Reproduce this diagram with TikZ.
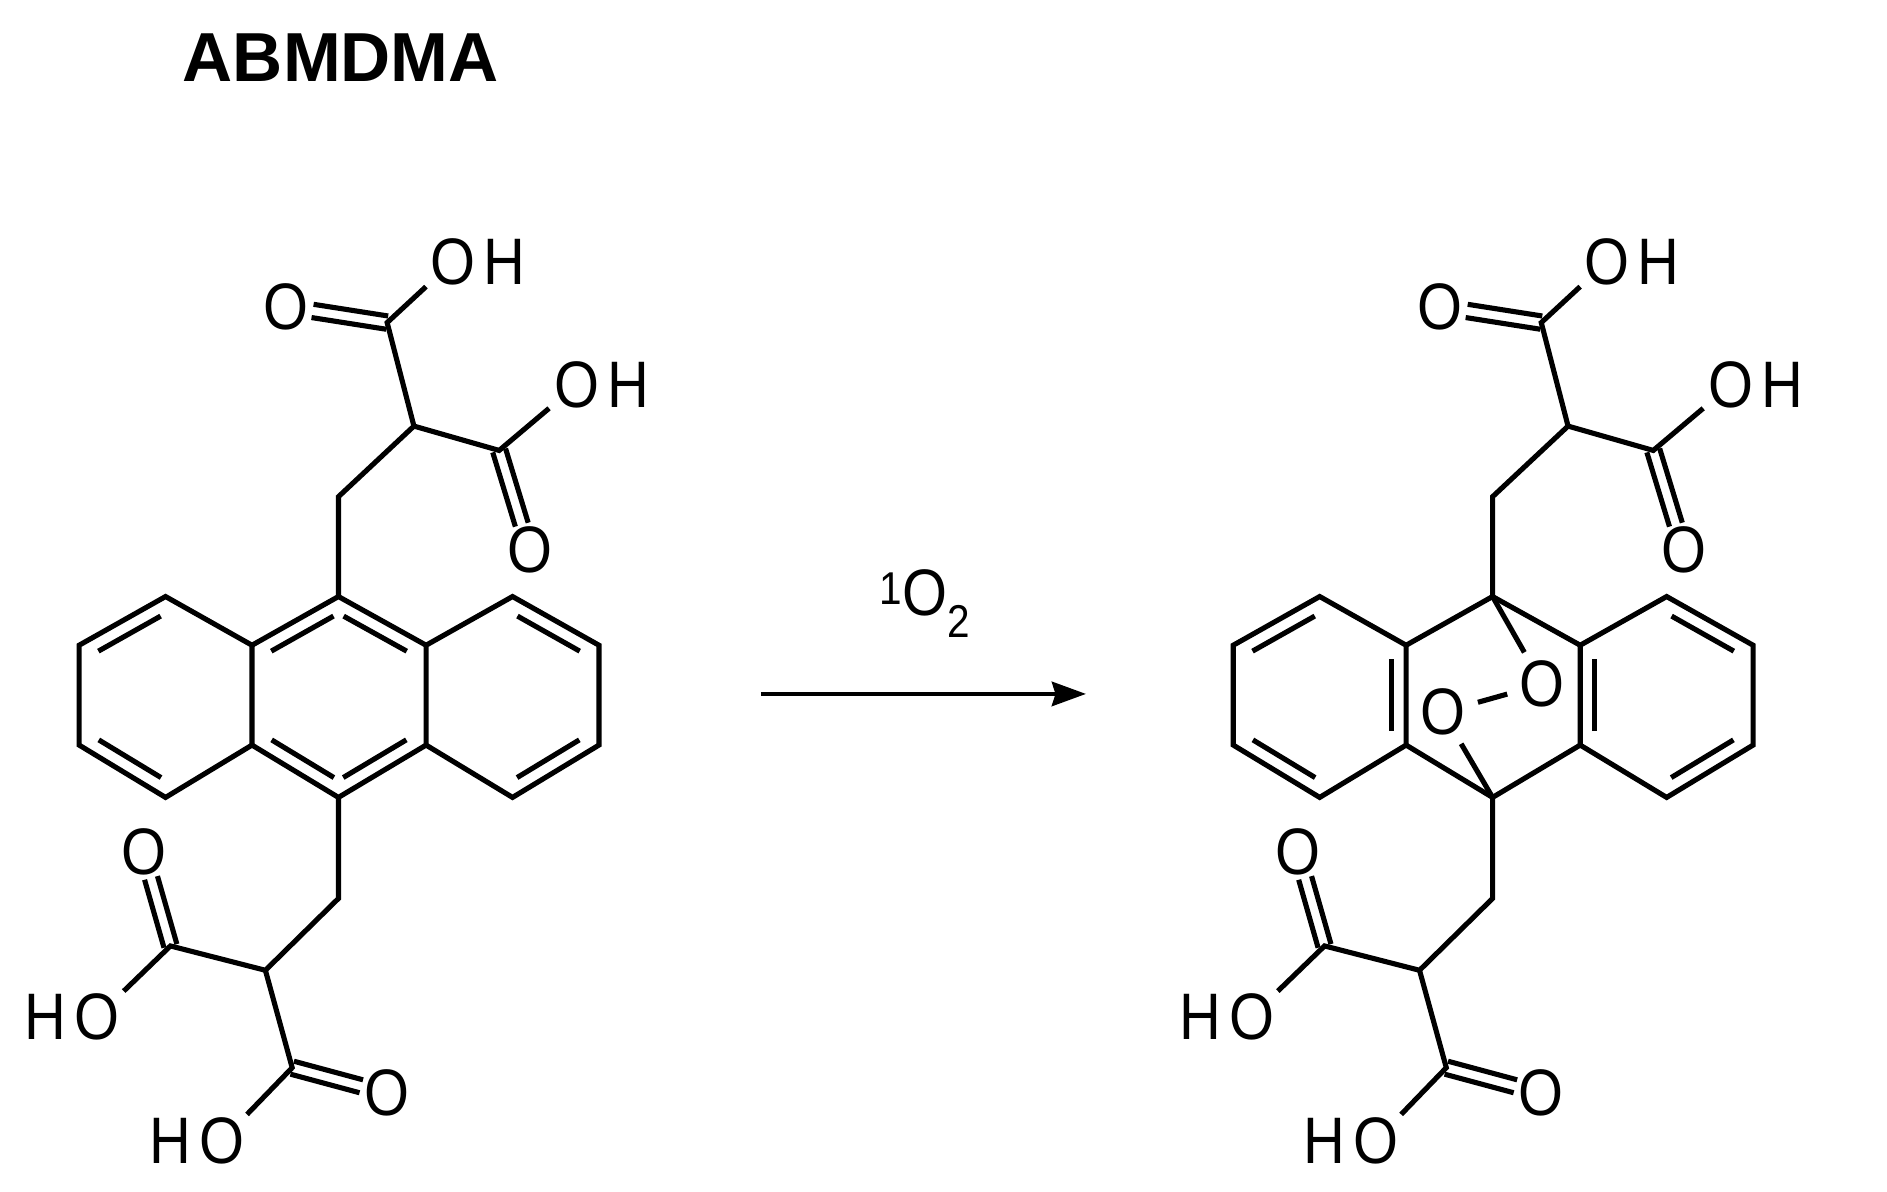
\documentclass[tikz,border=0pt]{standalone}
\usepackage{fontspec}
\setmainfont{Liberation Sans}
\newfontfamily\chemf[FakeStretch=0.88]{Liberation Sans}
\usetikzlibrary{calc,arrows.meta}
\begin{document}
\begin{tikzpicture}[x=1pt,y=-1pt,line width=4.2pt,
  atm/.style={circle,inner sep=1pt,font=\fontsize{54}{54}\chemf},
  lbl/.style={inner sep=0pt,font=\fontsize{54}{54}\chemf}]
\useasboundingbox (0,0) rectangle (1550,979);
\newcommand\inner[2]{\draw ($(#1)!0.14!(#2)!12pt!-90:(#2)$) -- ($(#2)!0.14!(#1)!12pt!90:(#1)$);}
\newcommand\dbl[3]{\draw[shorten >=22pt] ($(#1)!#3!90:(#2)$) -- ($(#2)!#3!-90:(#1)$);}
\newcommand\subst[1]{%
 \begin{scope}[xshift=#1pt]
 \coordinate (#1c9) at (278,490); \coordinate (#1c10) at (278,655);
 \coordinate (#1m1) at (278,408); \coordinate (#1h1) at (340,350);
 \coordinate (#1k1) at (318,265); \coordinate (#1k2) at (410,370);
 \node[atm] (#1o1) at (235,252) {O};
 \node[atm] (#1o2) at (372,215) {O}; \node[lbl,anchor=west] (#1hh2) at ([xshift=-7pt]#1o2.east) {H};
 \node[atm] (#1o3) at (435,452) {O};
 \node[atm] (#1o4) at (474,316) {O}; \node[lbl,anchor=west] (#1hh4) at ([xshift=-7pt]#1o4.east) {H};
 \draw (#1c9) -- (#1m1) -- (#1h1) -- (#1k1) -- (#1o2); \draw (#1h1) -- (#1k2) -- (#1o4);
 \dbl{#1k1}{#1o1}{5.5pt}\dbl{#1k1}{#1o1}{-5.5pt}
 \dbl{#1k2}{#1o3}{5.5pt}\dbl{#1k2}{#1o3}{-5.5pt}
 \coordinate (#1m2) at (278,738); \coordinate (#1h2) at (218,797);
 \coordinate (#1k3) at (140,777); \coordinate (#1k4) at (240,877);
 \node[atm] (#1o5) at (118,700) {O};
 \node[atm] (#1o6) at (80,835) {O}; \node[lbl,anchor=east] (#1hh6) at ([xshift=7pt]#1o6.west) {H};
 \node[atm] (#1o7) at (318,898) {O};
 \node[atm] (#1o8) at (182,937) {O}; \node[lbl,anchor=east] (#1hh8) at ([xshift=7pt]#1o8.west) {H};
 \draw (#1c10) -- (#1m2) -- (#1h2) -- (#1k3) -- (#1o6); \draw (#1h2) -- (#1k4) -- (#1o8);
 \dbl{#1k3}{#1o5}{5.5pt}\dbl{#1k3}{#1o5}{-5.5pt}
 \dbl{#1k4}{#1o7}{5.5pt}\dbl{#1k4}{#1o7}{-5.5pt}
 \end{scope}}
\node[lbl,font=\fontsize{57}{57}\selectfont\bfseries] (title) at (280,47) {ABMDMA};
% left molecule
\subst{0}
\coordinate (a1) at (207,530); \coordinate (a2) at (136,490); \coordinate (a3) at (65,530);
\coordinate (a4) at (65,612); \coordinate (a5) at (136,655); \coordinate (a6) at (207,612);
\coordinate (b1) at (350,530); \coordinate (b2) at (421,490); \coordinate (b3) at (492,530);
\coordinate (b4) at (492,612); \coordinate (b5) at (421,655); \coordinate (b6) at (350,612);
\draw (a1)--(a2)--(a3)--(a4)--(a5)--(a6)--cycle;
\draw (b1)--(b2)--(b3)--(b4)--(b5)--(b6)--cycle;
\draw (0c9)--(a1) (0c9)--(b1) (0c10)--(a6) (0c10)--(b6);
\inner{a3}{a2}\inner{a5}{a4}\inner{b2}{b3}\inner{b4}{b5}
\inner{a1}{0c9}\inner{0c9}{b1}\inner{b6}{0c10}\inner{0c10}{a6}
% arrow
\coordinate (ar1) at (625,570); \coordinate (ar2) at (892,570);
\draw[-{Stealth[length=28pt,width=20pt,inset=3pt]},line width=3.4pt] (ar1) -- (ar2);
\node[lbl] (reag) at (760,496) {\textsuperscript{1}O\textsubscript{2}};
% right molecule
\subst{948}
\coordinate (c1) at (1155,530); \coordinate (c2) at (1084,490); \coordinate (c3) at (1013,530);
\coordinate (c4) at (1013,612); \coordinate (c5) at (1084,655); \coordinate (c6) at (1155,612);
\coordinate (d1) at (1298,530); \coordinate (d2) at (1369,490); \coordinate (d3) at (1440,530);
\coordinate (d4) at (1440,612); \coordinate (d5) at (1369,655); \coordinate (d6) at (1298,612);
\draw (c1)--(c2)--(c3)--(c4)--(c5)--(c6)--cycle;
\draw (d1)--(d2)--(d3)--(d4)--(d5)--(d6)--cycle;
\draw (948c9)--(c1) (948c9)--(d1) (948c10)--(c6) (948c10)--(d6);
\inner{c3}{c2}\inner{c5}{c4}\inner{c1}{c6}
\inner{d2}{d3}\inner{d4}{d5}\inner{d6}{d1}
\node[atm] (p1) at (1267,562) {O}; \node[atm] (p2) at (1185,585) {O};
\draw (948c9)--(p1) (p1)--(p2) (p2)--(948c10);
\end{tikzpicture}
\end{document}
